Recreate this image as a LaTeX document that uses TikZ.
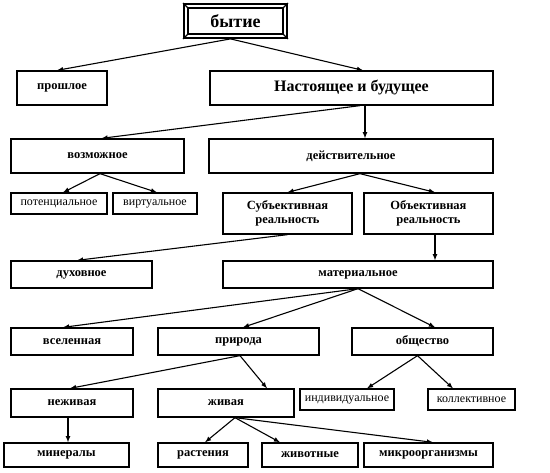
\documentclass[tikz,border=0pt]{standalone}
\usepackage{fontspec}
\setmainfont{Liberation Serif}
\usetikzlibrary{shapes}
\usetikzlibrary{arrows}

\begin{document}
\begin{tikzpicture}[x=1pt,y=-1pt]
					\tikzstyle{box}=[rectangle,draw,line width=1.3pt,inner sep=0pt,font=\bfseries\fontsize{12.5}{14}\selectfont,align=center]
					\tikzstyle{thin}=[box,line width=1.1pt,font=\fontsize{12}{13}\selectfont]
					\tikzstyle{every path}=[line width=1.1pt]
					\useasboundingbox (0,0) rectangle (550,473);
					% top
					\node[box,minimum width=103pt,minimum height=34pt,line width=1.8pt,font=\bfseries\fontsize{18}{19}\selectfont] (byt) at (235.5,21) {бытие};
					\draw[line width=1.3pt] ([shift={(5pt,-5pt)}]byt.north west) rectangle ([shift={(-5pt,5pt)}]byt.south east);
					\foreach \a/\s in {north west/{(5pt,-5pt)},north east/{(-5pt,-5pt)},south west/{(5pt,5pt)},south east/{(-5pt,5pt)}}
						\draw (byt.\a) -- ([shift=\s]byt.\a);
					\node[box,minimum width=90pt,minimum height=34pt] (prosh) at (62,88) {прошлое};
					\node[box,minimum width=283pt,minimum height=34pt,font=\bfseries\fontsize{16}{17}\selectfont] (nast) at (351.5,88) {Настоящее и будущее};
					% possible / actual
					\node[box,minimum width=173pt,minimum height=34pt] (vozm) at (97.5,156) {возможное};
					\node[box,minimum width=284pt,minimum height=34pt] (dejst) at (351,156) {действительное};
					\node[thin,minimum width=96pt,minimum height=21pt] (potenc) at (59,203.5) {потенциальное};
					\node[thin,minimum width=84pt,minimum height=21pt] (virt) at (155,203.5) {виртуальное};
					\node[box,minimum width=129pt,minimum height=41pt] (subj) at (287.5,213.5) {Субъективная\\реальность};
					\node[box,minimum width=129pt,minimum height=41pt] (obj) at (428.5,213.5) {Объективная\\реальность};
					\node[box,minimum width=141pt,minimum height=27pt] (duh) at (81.5,274.5) {духовное};
					\node[box,minimum width=270pt,minimum height=27pt] (mater) at (358,274.5) {материальное};
					% material
					\node[box,minimum width=122pt,minimum height=27pt] (vsel) at (72,341.5) {вселенная};
					\node[box,minimum width=161pt,minimum height=27pt] (prir) at (238.5,341.5) {природа};
					\node[box,minimum width=141pt,minimum height=27pt] (obsch) at (422.5,341.5) {общество};
					\node[box,minimum width=122pt,minimum height=28pt] (nezh) at (72,403) {неживая};
					\node[box,minimum width=136pt,minimum height=28pt] (zhiv) at (226,403) {живая};
					\node[thin,minimum width=94pt,minimum height=21pt] (indiv) at (347,399.5) {индивидуальное};
					\node[thin,minimum width=87pt,minimum height=21pt] (koll) at (471.5,399.5) {коллективное};
					\node[box,minimum width=125pt,minimum height=24pt] (miner) at (66.5,455) {минералы};
					\node[box,minimum width=90pt,minimum height=24pt] (rast) at (203,455) {растения};
					\node[box,minimum width=96pt,minimum height=24pt] (zhivot) at (310,455) {животные};
					\node[box,minimum width=129pt,minimum height=24pt] (mikro) at (428.5,455) {микроорганизмы};
					% arrows
					\draw[-latex] ([xshift=-5pt]byt.south) -- ([xshift=-5pt]prosh.north);
					\draw[-latex] ([xshift=-5pt]byt.south) -- ([xshift=11.5pt]nast.north);
					\draw[-latex] ([xshift=8.5pt]nast.south) -- ([xshift=4pt]vozm.north);
					\draw[-latex] ([xshift=13.5pt]nast.south) -- ([xshift=14pt]dejst.north);
					\draw[-latex] ([xshift=2.5pt]vozm.south) -- ([xshift=4pt]potenc.north);
					\draw[-latex] ([xshift=2.5pt]vozm.south) -- ([xshift=2pt]virt.north);
					\draw[-latex] ([xshift=9pt]dejst.south) -- (subj.north);
					\draw[-latex] ([xshift=9pt]dejst.south) -- ([xshift=6.5pt]obj.north);
					\draw[-latex] (subj.south) -- ([xshift=-4.5pt]duh.north);
					\draw[-latex] ([xshift=6.5pt]obj.south) -- ([xshift=6.5pt]obj.south |- mater.north);
					\draw[-latex] (mater.south) -- ([xshift=-9pt]vsel.north);
					\draw[-latex] (mater.south) -- ([xshift=4.5pt]prir.north);
					\draw[-latex] (mater.south) -- ([xshift=12.5pt]obsch.north);
					\draw[-latex] ([xshift=1.5pt]prir.south) -- ([xshift=-2pt]nezh.north);
					\draw[-latex] ([xshift=1.5pt]prir.south) -- ([xshift=41pt]zhiv.north);
					\draw[-latex] ([xshift=-5pt]obsch.south) -- ([xshift=20pt]indiv.north);
					\draw[-latex] ([xshift=-5pt]obsch.south) -- ([xshift=-18.5pt]koll.north);
					\draw[-latex] ([xshift=-4pt]nezh.south) -- ([xshift=-4pt]nezh.south |- miner.north);
					\draw[-latex] ([xshift=9pt]zhiv.south) -- ([xshift=2pt]rast.north);
					\draw[-latex] ([xshift=9pt]zhiv.south) -- ([xshift=-30pt]zhivot.north);
					\draw[-latex] ([xshift=9pt]zhiv.south) -- ([xshift=4.5pt]mikro.north);
\end{tikzpicture}
\end{document}
